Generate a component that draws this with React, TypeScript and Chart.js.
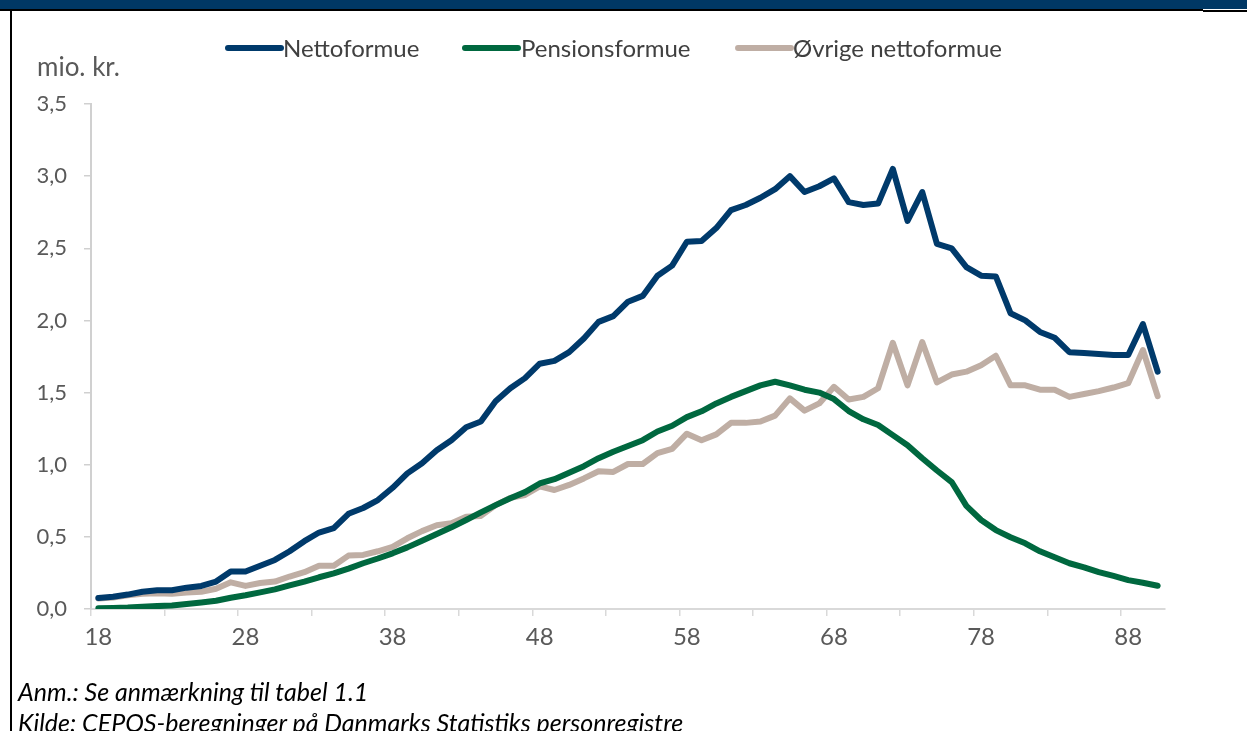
import React, { useEffect, useRef } from 'react';
import { Chart, registerables } from 'chart.js';

Chart.register(...registerables);

const ages = [
  '18', '19', '20', '21', '22', '23', '24', '25', '26', '27',
  '28', '29', '30', '31', '32', '33', '34', '35', '36', '37',
  '38', '39', '40', '41', '42', '43', '44', '45', '46', '47',
  '48', '49', '50', '51', '52', '53', '54', '55', '56', '57',
  '58', '59', '60', '61', '62', '63', '64', '65', '66', '67',
  '68', '69', '70', '71', '72', '73', '74', '75', '76', '77',
  '78', '79', '80', '81', '82', '83', '84', '85', '86', '87',
  '88', '89', '90',
];

const xTickLabels = ['18', '28', '38', '48', '58', '68', '78', '88'];

const nettoformue = [
  0.076, 0.085, 0.1, 0.12, 0.13, 0.13, 0.148, 0.16, 0.19, 0.26,
  0.26, 0.3, 0.34, 0.4, 0.47, 0.53, 0.56, 0.66, 0.7, 0.755,
  0.84, 0.94, 1.01, 1.1, 1.17, 1.26, 1.3, 1.44, 1.53, 1.6,
  1.7, 1.72, 1.78, 1.875, 1.99, 2.03, 2.13, 2.17, 2.31, 2.38,
  2.545, 2.55, 2.64, 2.765, 2.8, 2.85, 2.91, 3.0, 2.89, 2.93,
  2.985, 2.82, 2.8, 2.81, 3.05, 2.69, 2.89, 2.53, 2.5, 2.37,
  2.31, 2.305, 2.05, 2.0, 1.92, 1.88, 1.78, 1.775, 1.767, 1.76,
  1.76, 1.975, 1.645,
];

const pensionsformue = [
  0.005, 0.007, 0.01, 0.016, 0.02, 0.025, 0.035, 0.045, 0.057, 0.078,
  0.095, 0.115, 0.136, 0.164, 0.19, 0.22, 0.247, 0.28, 0.317, 0.35,
  0.386, 0.427, 0.473, 0.52, 0.566, 0.617, 0.67, 0.72, 0.767, 0.81,
  0.87, 0.9, 0.945, 0.99, 1.045, 1.09, 1.13, 1.17, 1.23, 1.27,
  1.33, 1.37, 1.425, 1.47, 1.51, 1.55, 1.575, 1.55, 1.52, 1.5,
  1.455, 1.372, 1.315, 1.275, 1.205, 1.135, 1.045, 0.96, 0.88, 0.715,
  0.617, 0.547, 0.497, 0.455, 0.4, 0.358, 0.317, 0.289, 0.256, 0.229,
  0.2, 0.182, 0.161,
];

const oevrigeNettoformue = [
  0.072, 0.08, 0.095, 0.105, 0.11, 0.105, 0.115, 0.12, 0.14, 0.185,
  0.16, 0.18, 0.19, 0.225, 0.255, 0.3, 0.3, 0.37, 0.375, 0.4,
  0.43, 0.49, 0.54, 0.58, 0.595, 0.64, 0.645, 0.72, 0.77, 0.79,
  0.85, 0.825, 0.86, 0.905, 0.955, 0.95, 1.005, 1.005, 1.08, 1.11,
  1.215, 1.17, 1.21, 1.29, 1.29, 1.3, 1.34, 1.46, 1.375, 1.425,
  1.54, 1.452, 1.47, 1.53, 1.845, 1.55, 1.85, 1.57, 1.625, 1.645,
  1.69, 1.755, 1.55, 1.55, 1.52, 1.52, 1.47, 1.49, 1.51, 1.535,
  1.565, 1.795, 1.475,
];

const seriesNames = ['Nettoformue', 'Pensionsformue', 'Øvrige nettoformue'];
const seriesColors = ['#003a6b', '#00683f', '#bfaea4'];

const FONT = 'Lato, "Open Sans", sans-serif';
const W = 1247;
const H = 731;

export default function App() {
  const canvasRef = useRef<HTMLCanvasElement | null>(null);

  useEffect(() => {
    document.body.style.margin = '0';
    const canvas = canvasRef.current;
    if (!canvas) return;
    const seriesData = [nettoformue, pensionsformue, oevrigeNettoformue];
    const chart = new Chart(canvas, {
      type: 'line',
      data: {
        labels: ages,
        datasets: seriesNames.map((name, i) => ({
          label: name,
          data: seriesData[i],
          borderColor: seriesColors[i],
          backgroundColor: seriesColors[i],
          borderWidth: 6,
          borderJoinStyle: 'round' as const,
          borderCapStyle: 'round' as const,
          pointRadius: 0,
          pointHoverRadius: 0,
          tension: 0,
          fill: false,
        })),
      },
      options: {
        responsive: false,
        animation: false,
        devicePixelRatio: 1,
        layout: { padding: { left: 0, top: 104, right: 82, bottom: 62 } },
        plugins: {
          legend: { display: false },
          tooltip: { enabled: false },
          title: { display: false },
        },
        scales: {
          x: {
            type: 'category',
            offset: true,
            afterFit: (s: any) => {
              s.height = 60;
            },
            grid: {
              offset: true,
              drawOnChartArea: false,
              drawTicks: true,
              tickLength: 7,
              lineWidth: 1.5,
              color: (c: any) =>
                typeof c.index === 'number' && c.index % 5 === 0 ? '#d9d9d9' : 'rgba(0,0,0,0)',
            },
            border: { display: true, color: '#d9d9d9', width: 2 },
            ticks: {
              autoSkip: false,
              maxRotation: 0,
              minRotation: 0,
              padding: 7,
              color: '#595959',
              font: { family: FONT, size: 24 },
              callback: function (this: any, _v: any, idx: number) {
                const lab = ages[idx];
                return xTickLabels.includes(lab) ? lab : '';
              },
            },
          },
          y: {
            min: 0,
            max: 3.5,
            afterFit: (s: any) => {
              s.width = 91;
            },
            grid: {
              drawOnChartArea: false,
              drawTicks: true,
              tickLength: 7,
              lineWidth: 1.5,
              color: '#d0d0d0',
            },
            border: { display: true, color: '#d0d0d0', width: 2 },
            ticks: {
              stepSize: 0.5,
              padding: 17,
              color: '#595959',
              font: { family: FONT, size: 22 },
              callback: (v: any) => Number(v).toFixed(1).replace('.', ','),
            },
          },
        },
      },
    });
    return () => chart.destroy();
  }, []);

  const legendItems = [
    { line: 225, text: 283 },
    { line: 462, text: 521 },
    { line: 735, text: 793 },
  ];

  return (
    <div
      style={{
        position: 'fixed',
        left: 0,
        top: 0,
        width: W,
        height: H,
        overflow: 'hidden',
        background: '#ffffff',
        fontFamily: FONT,
      }}
    >
      <canvas
        ref={canvasRef}
        width={W}
        height={H}
        style={{ position: 'absolute', left: 0, top: 0, width: W, height: H }}
      />
      <div style={{ position: 'absolute', left: 0, top: 0, width: W, height: 9, background: '#003865' }} />
      <div style={{ position: 'absolute', left: 0, top: 9, width: 1203, height: 2, background: '#000' }} />
      <div style={{ position: 'absolute', left: 1203, top: 10, width: 44, height: 2, background: '#000' }} />
      <div style={{ position: 'absolute', left: 10, top: 9, width: 2, height: H - 9, background: '#000' }} />
      {legendItems.map((it, i) => (
        <React.Fragment key={seriesNames[i]}>
          <div
            style={{
              position: 'absolute',
              left: it.line,
              top: 45,
              width: 59,
              height: 6,
              borderRadius: 3,
              background: seriesColors[i],
            }}
          />
          <div
            style={{
              position: 'absolute',
              left: it.text,
              top: 33,
              height: 30,
              lineHeight: '30px',
              fontSize: 24,
              color: '#404040',
              whiteSpace: 'nowrap',
            }}
          >
            {seriesNames[i]}
          </div>
        </React.Fragment>
      ))}
      <div
        style={{
          position: 'absolute',
          left: 37,
          top: 51,
          lineHeight: '30px',
          fontSize: 26,
          color: '#595959',
          whiteSpace: 'nowrap',
        }}
      >
        mio. kr.
      </div>
      <div
        style={{
          position: 'absolute',
          left: 18,
          top: 676,
          lineHeight: '30px',
          fontSize: 25,
          fontStyle: 'italic',
          color: '#000',
          whiteSpace: 'nowrap',
        }}
      >
        Anm.: Se anmærkning til tabel 1.1
      </div>
      <div
        style={{
          position: 'absolute',
          left: 18,
          top: 707,
          lineHeight: '30px',
          fontSize: 25,
          fontStyle: 'italic',
          color: '#000',
          whiteSpace: 'nowrap',
        }}
      >
        Kilde: CEPOS-beregninger på Danmarks Statistiks personregistre
      </div>
    </div>
  );
}
